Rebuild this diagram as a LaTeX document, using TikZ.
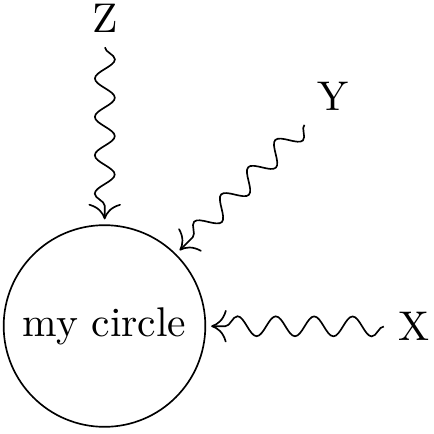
\documentclass[tikz,border=0pt]{standalone}
\usetikzlibrary{decorations.pathmorphing,arrows.meta}
\begin{document}
\begin{tikzpicture}[x=0.24096pt,y=-0.24096pt,
  snakearrow/.style={-{Computer Modern Rightarrow[scale=1.5]},decorate,
    decoration={snake,amplitude=2.4pt,segment length=9.25pt,post length=1.5mm},
    shorten >=1.2pt}]
\useasboundingbox (0,0) rectangle (434,433);
\node[circle,draw] (c) at (104.5,326) {my circle};
\node (x) at (414,326.5) {X};
\node (y) at (333,96) {Y};
\node (z) at (105,18.5) {Z};
\draw[snakearrow] (z) -- (c);
\draw[snakearrow] (y) -- (c);
\draw[snakearrow] (x) -- (c);
\end{tikzpicture}
\end{document}
